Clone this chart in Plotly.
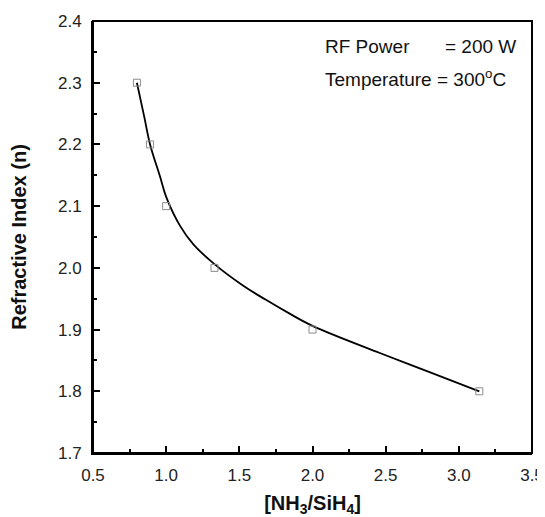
import plotly.graph_objects as go

# Measured data points
ratio = [0.80, 0.89, 1.00, 1.33, 2.00, 3.14]
refr_index = [2.30, 2.20, 2.10, 2.00, 1.90, 1.80]

# Fitted curve
fit_x = [0.80, 0.85, 0.89, 0.958, 1.00, 1.095, 1.186, 1.33, 1.527, 1.676, 1.835, 2.00, 2.46, 2.80, 3.14]
fit_y = [2.300, 2.245, 2.200, 2.148, 2.115, 2.068, 2.038, 2.006, 1.971, 1.949, 1.927, 1.906, 1.862, 1.831, 1.800]

x_ticks = [0.5, 1.0, 1.5, 2.0, 2.5, 3.0, 3.5]
y_ticks = [1.7, 1.8, 1.9, 2.0, 2.1, 2.2, 2.3, 2.4]

FONT = "Liberation Sans, Arial, sans-serif"

fig = go.Figure()
fig.add_trace(go.Scatter(
    x=fit_x, y=fit_y, mode="lines",
    line=dict(color="black", width=1.8, shape="spline", smoothing=1.0),
    showlegend=False, hoverinfo="skip"))
fig.add_trace(go.Scatter(
    x=ratio, y=refr_index, mode="markers",
    marker=dict(symbol="square-open", size=7, color="#8c8c8c", line=dict(width=1)),
    showlegend=False))

axis_common = dict(
    showgrid=False, zeroline=False, showline=True, linecolor="black", linewidth=2,
    ticks="inside", ticklen=7, tickwidth=2, tickcolor="black",
    tickfont=dict(family=FONT, size=17, color="#222"),
    mirror=False, automargin=False,
)

fig.update_xaxes(
    range=[0.5, 3.5], tickvals=x_ticks, ticktext=[f"{v:.1f}" for v in x_ticks],
    minor=dict(ticks="inside", ticklen=4, tickwidth=2, tickcolor="black", dtick=0.25, tick0=0.5),
    title=dict(text="<b>[NH<sub>3</sub>/SiH<sub>4</sub>]</b>", font=dict(family=FONT, size=20, color="#111"), standoff=19),
    ticklabelstandoff=6,
    **axis_common)
fig.update_yaxes(
    range=[1.7, 2.4], tickvals=y_ticks, ticktext=[f"{v:.1f}" for v in y_ticks],
    minor=dict(ticks="inside", ticklen=4, tickwidth=2, tickcolor="black", dtick=0.05, tick0=1.7),
    title=dict(text="<b>Refractive Index (n)</b>", font=dict(family=FONT, size=20, color="#111"), standoff=28),
    ticklabelstandoff=6,
    **axis_common)

# Frame: top and right borders without ticks
fig.add_shape(type="rect", xref="paper", yref="paper", x0=0, y0=0, x1=1, y1=1,
              line=dict(color="black", width=2), layer="above")

fig.add_annotation(xref="paper", yref="paper", x=0.524, y=0.942, xanchor="left", yanchor="middle",
                   text="RF Power", showarrow=False, font=dict(family=FONT, size=19, color="#111"))
fig.add_annotation(xref="paper", yref="paper", x=0.797, y=0.942, xanchor="left", yanchor="middle",
                   text="= 200 W", showarrow=False, font=dict(family=FONT, size=19, color="#111"))
fig.add_annotation(xref="paper", yref="paper", x=0.524, y=0.868, xanchor="left", yanchor="middle",
                   text="Temperature = 300<sup>o</sup>C", showarrow=False, font=dict(family=FONT, size=19, color="#111"))

# The page adds an 8px body margin, so the figure is sized to fit inside the window
fig.update_layout(
    width=537, height=509,
    margin=dict(l=85, r=13, t=13, b=64),
    paper_bgcolor="white", plot_bgcolor="white",
)

fig.write_html("out.html")
